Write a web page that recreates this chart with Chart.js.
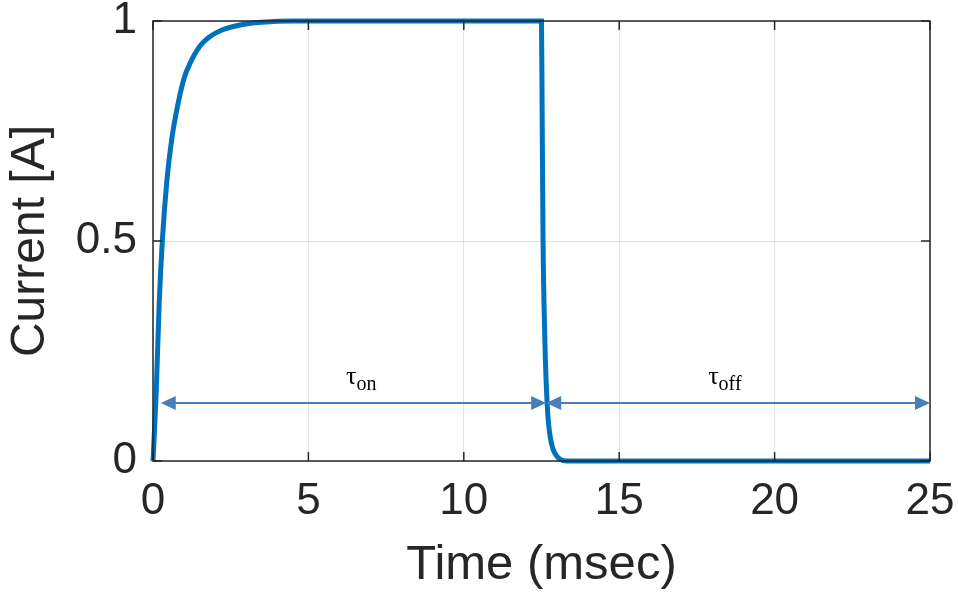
<!DOCTYPE html>
<html lang="en">
<head>
    <meta charset="UTF-8">
    <title>Current vs Time</title>
    <script src="https://cdn.jsdelivr.net/npm/chart.js"></script>
    <style>
        html, body { margin: 0; padding: 0; background: #ffffff; }
        #chart-wrap { width: 958px; height: 599px; }
    </style>
</head>
<body>
    <div id="chart-wrap"><canvas id="current-chart" width="958" height="599"></canvas></div>
    <script>
        // Coil current response (ms, A)
        const timeMs = [0, 0.1, 0.2, 0.3, 0.45, 0.6, 0.8, 1.0, 1.2, 1.5, 1.8, 2.2, 2.8, 3.5, 4.5,
                        12.5, 12.52, 12.55, 12.6, 12.65, 12.72, 12.82, 12.95, 13.1, 13.3, 25];
        const currentA = [0, 0.15, 0.36, 0.5, 0.64, 0.73, 0.81, 0.87, 0.905, 0.942, 0.963, 0.979, 0.991, 0.997, 1.0,
                          1.0, 0.8, 0.5, 0.3, 0.18, 0.09, 0.04, 0.015, 0.004, 0, 0];

        const xTicks = [0, 5, 10, 15, 20, 25];
        const yTicks = [0, 0.5, 1];

        // Double arrows marking the on / off intervals
        const arrowSpans = [[0.25, 12.65], [12.65, 25]];
        const arrowLevel = 0.132;
        const tauLabels = [
            { t: 6.7, sub: 'on' },
            { t: 18.4, sub: 'off' }
        ];
        const tauLabelLevel = 0.19;

        const axisColor = '#262626';
        const lineColor = '#0072BD';
        const arrowColor = '#4A7EBB';

        function drawArrowHead(ctx, tipX, y, dir) {
            const len = 15, half = 7;
            ctx.beginPath();
            ctx.moveTo(tipX, y);
            ctx.lineTo(tipX - dir * len, y - half);
            ctx.lineTo(tipX - dir * len, y + half);
            ctx.closePath();
            ctx.fill();
        }

        // Box around the plot with inward ticks on all four sides, plus the annotations
        const boxAndNotes = {
            id: 'boxAndNotes',
            afterDatasetsDraw(chart) {
                const { ctx, chartArea: a, scales } = chart;
                const xs = scales.x, ys = scales.y;
                ctx.save();

                // arrows
                ctx.strokeStyle = arrowColor;
                ctx.fillStyle = arrowColor;
                ctx.lineWidth = 2;
                const ay = ys.getPixelForValue(arrowLevel);
                arrowSpans.forEach(([t0, t1]) => {
                    const x0 = xs.getPixelForValue(t0), x1 = xs.getPixelForValue(t1);
                    ctx.beginPath();
                    ctx.moveTo(x0 + 8, ay);
                    ctx.lineTo(x1 - 8, ay);
                    ctx.stroke();
                    drawArrowHead(ctx, x0, ay, -1);
                    drawArrowHead(ctx, x1, ay, 1);
                });

                // tau labels
                ctx.fillStyle = '#000000';
                ctx.textBaseline = 'alphabetic';
                const ly = ys.getPixelForValue(tauLabelLevel);
                tauLabels.forEach(l => {
                    ctx.font = '26px "Liberation Serif", serif';
                    const wTau = ctx.measureText('τ').width;
                    ctx.font = '20px "Liberation Serif", serif';
                    const wSub = ctx.measureText(l.sub).width;
                    const cx = xs.getPixelForValue(l.t);
                    const left = cx - (wTau + wSub) / 2;
                    ctx.font = '26px "Liberation Serif", serif';
                    ctx.textAlign = 'left';
                    ctx.fillText('τ', left, ly + 7);
                    ctx.font = '20px "Liberation Serif", serif';
                    ctx.fillText(l.sub, left + wTau, ly + 13);
                });

                // box
                ctx.strokeStyle = axisColor;
                ctx.lineWidth = 1.5;
                ctx.strokeRect(a.left, a.top, a.right - a.left, a.bottom - a.top);

                // inward ticks
                const tl = 9;
                ctx.beginPath();
                xTicks.forEach(v => {
                    const px = xs.getPixelForValue(v);
                    ctx.moveTo(px, a.bottom); ctx.lineTo(px, a.bottom - tl);
                    ctx.moveTo(px, a.top); ctx.lineTo(px, a.top + tl);
                });
                yTicks.forEach(v => {
                    const py = ys.getPixelForValue(v);
                    ctx.moveTo(a.left, py); ctx.lineTo(a.left + tl, py);
                    ctx.moveTo(a.right, py); ctx.lineTo(a.right - tl, py);
                });
                ctx.stroke();
                ctx.restore();
            }
        };

        const points = timeMs.map((t, i) => ({ x: t, y: currentA[i] }));

        new Chart(document.getElementById('current-chart').getContext('2d'), {
            type: 'line',
            data: {
                datasets: [{
                    data: points,
                    borderColor: lineColor,
                    borderWidth: 5,
                    pointRadius: 0,
                    fill: false,
                    cubicInterpolationMode: 'monotone',
                    clip: 6
                }]
            },
            options: {
                responsive: false,
                animation: false,
                layout: { padding: { top: 21, right: 28, left: 0, bottom: 0 } },
                plugins: {
                    legend: { display: false },
                    tooltip: { enabled: false }
                },
                scales: {
                    x: {
                        type: 'linear',
                        min: 0,
                        max: 25,
                        afterBuildTicks: s => { s.ticks = xTicks.map(v => ({ value: v })); },
                        afterFit: s => {
                            s.height = 138;
                            s.paddingLeft = 0;
                            s.paddingRight = 0;
                        },
                        grid: { color: 'rgba(38,38,38,0.13)', drawTicks: false, lineWidth: 1 },
                        border: { display: false },
                        ticks: {
                            color: axisColor,
                            padding: 14,
                            font: { family: '"Liberation Sans", Arial, sans-serif', size: 44 }
                        },
                        title: {
                            display: true,
                            text: 'Time (msec)',
                            color: axisColor,
                            font: { family: '"Liberation Sans", Arial, sans-serif', size: 49 },
                            padding: { top: 0, bottom: 4 }
                        }
                    },
                    y: {
                        min: 0,
                        max: 1,
                        afterBuildTicks: s => { s.ticks = yTicks.map(v => ({ value: v })); },
                        afterFit: s => {
                            s.width = 153;
                            s.paddingTop = 0;
                            s.paddingBottom = 0;
                        },
                        grid: { color: 'rgba(38,38,38,0.13)', drawTicks: false, lineWidth: 1 },
                        border: { display: false },
                        ticks: {
                            color: axisColor,
                            padding: 16,
                            font: { family: '"Liberation Sans", Arial, sans-serif', size: 44 },
                            callback: v => String(v)
                        },
                        title: {
                            display: true,
                            text: 'Current [A]',
                            color: axisColor,
                            font: { family: '"Liberation Sans", Arial, sans-serif', size: 48 },
                            padding: { top: 2, bottom: 0 }
                        }
                    }
                }
            },
            plugins: [boxAndNotes]
        });
    </script>
</body>
</html>
